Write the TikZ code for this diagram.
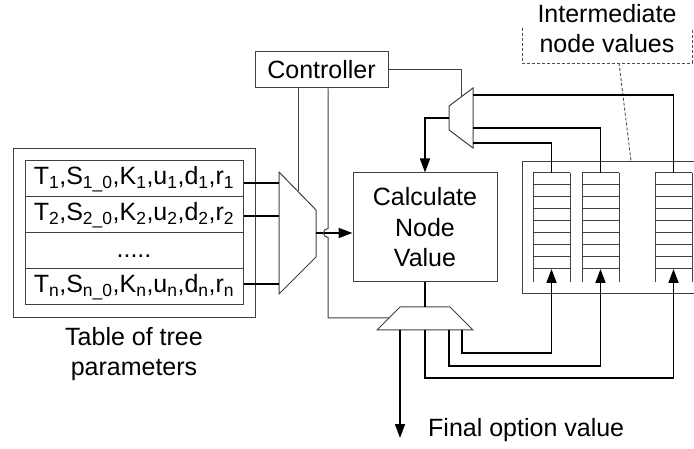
\documentclass[tikz,border=0pt]{standalone}
\usepackage{fontspec}
\setmainfont{Liberation Sans}
\usetikzlibrary{arrows.meta,calc}
\begin{document}
\begin{tikzpicture}[x=1pt,y=-1pt,
  thinln/.style={line width=1pt, draw=black!75},
  boxn/.style={thinln, rectangle, inner sep=0pt, font=\fontsize{25}{30.5}\selectfont, align=center},
  thk/.style={line width=2.8pt, draw=black},
  med/.style={line width=1.6pt, draw=black},
  arr/.style={-{Triangle[length=14pt,width=10pt]}},
  lbl/.style={font=\fontsize{25}{30.5}\selectfont, inner sep=0pt},
  dsh/.style={line width=0.9pt, draw=black!70, dash pattern=on 3pt off 2pt},
]
\clip (0,0) rectangle (694,449);

% boxes
\node[boxn, minimum width=133pt, minimum height=36pt] (ctrl) at (321.5,70) {Controller};
\node[boxn, minimum width=242pt, minimum height=169pt] (tbl) at (134,233.5) {};
\node[boxn, minimum width=218pt, minimum height=36pt] (row1) at (134,179)
  {T\textsubscript{1},S\textsubscript{1\_0},K\textsubscript{1},u\textsubscript{1},d\textsubscript{1},r\textsubscript{1}};
\node[boxn, minimum width=218pt, minimum height=36pt] (row2) at (134,215)
  {T\textsubscript{2},S\textsubscript{2\_0},K\textsubscript{2},u\textsubscript{2},d\textsubscript{2},r\textsubscript{2}};
\node[boxn, minimum width=218pt, minimum height=36pt] (rowd) at (134,251)
  {\vphantom{T\textsubscript{1}}.....};
\node[boxn, minimum width=218pt, minimum height=36pt] (rown) at (134,287)
  {T\textsubscript{n},S\textsubscript{n\_0},K\textsubscript{n},u\textsubscript{n},d\textsubscript{n},r\textsubscript{n}};
\node[boxn, minimum width=144pt, minimum height=109pt] (calc) at (425,227.5) {Calculate\\Node\\Value};
\node[boxn, minimum width=190pt, minimum height=132pt, anchor=north west] (mem) at (522,161) {};

% labels
\node[lbl, anchor=base] (tl1) at (134,345) {Table of tree};
\node[lbl, anchor=base] (tl2) at (134,375) {parameters};
\node[lbl, anchor=base] (im1) at (607,23) {Intermediate};
\node[lbl, anchor=base] (im2) at (607,53) {node values};
\node[lbl, anchor=base west] (fov) at (428,436) {Final option value};

% memory columns
\foreach \cx in {533,582,655} {
  \draw[thinln] (\cx,173) -- (\cx,282);
  \draw[thinln] (\cx+37,173) -- (\cx+37,282);
  \foreach \k in {0,...,8} \draw[thinln] (\cx,173+12*\k) -- (\cx+37,173+12*\k);
}
\coordinate (c1t) at (551.5,173); \coordinate (c1b) at (551.5,269);
\coordinate (c2t) at (600.5,173); \coordinate (c2b) at (600.5,269);
\coordinate (c3t) at (673.5,173); \coordinate (c3b) at (673.5,269);

% dashed annotation
\draw[dsh] (522,28) -- (522,63) -- (692,63) -- (692,28);
\coordinate (dl) at (619,63);
\draw[dsh] (dl) -- (631,161);

% mux 1 (table)
\coordinate (m1a) at (279,172); \coordinate (m1b) at (316,210);
\coordinate (m1c) at (316,257); \coordinate (m1d) at (279,294);
\draw[thinln] (m1a) -- (m1b) -- (m1c) -- (m1d) -- cycle;
\coordinate (m1i1) at (279,183); \coordinate (m1i2) at (279,216); \coordinate (m1i3) at (279,284);
\coordinate (m1o) at (316,233);
\draw[thk] (row1.east |- m1i1) -- (m1i1);
\draw[thk] (row2.east |- m1i2) -- (m1i2);
\draw[thk] (rown.east |- m1i3) -- (m1i3);
\draw[med, arr] (m1o) -- (calc.west |- m1o);

% mux 2 (memory read)
\coordinate (m2a) at (473,88); \coordinate (m2b) at (473,148);
\coordinate (m2c) at (449,130); \coordinate (m2d) at (449,106);
\draw[thinln] (m2a) -- (m2b) -- (m2c) -- (m2d) -- cycle;
\coordinate (m2o) at (449,118);
\draw[med, arr] (m2o) -| (calc.north);
\draw[med] (473,95) -| (c3t);
\draw[med] (473,128) -| (c2t);
\draw[med] (473,143) -| (c1t);

% mux 3 (memory write)
\coordinate (m3a) at (400,307); \coordinate (m3b) at (450,307);
\coordinate (m3c) at (473,330); \coordinate (m3d) at (377,330);
\draw[thinln] (m3a) -- (m3b) -- (m3c) -- (m3d) -- cycle;
\draw[med] (calc.south) -- (calc.south |- m3a);
\coordinate (fout) at (400,438);
\draw[med, arr] (400,330) -- (fout);
\coordinate (f1) at (462,353); \coordinate (f2) at (449,366); \coordinate (f3) at (425,378);
\draw[med, arr] (462,330) -- (f1) -| (c1b);
\draw[med, arr] (449,330) -- (f2) -| (c2b);
\draw[med, arr] (425,330) -- (f3) -| (c3b);

% controller lines
\coordinate (k1) at (298,191.5);
\draw[thinln] (ctrl.south -| k1) -- (k1);
\coordinate (hop) at (328,233);
\coordinate (k3) at (389,318);
\draw[thinln] (ctrl.south -| hop) -- ($(hop)+(0,-4.5)$) arc[start angle=270, end angle=90, radius=4.5] -- (hop |- k3) -- (k3);
\coordinate (k2) at (461,97);
\draw[thinln] (ctrl.east) -| (k2);
\end{tikzpicture}
\end{document}
